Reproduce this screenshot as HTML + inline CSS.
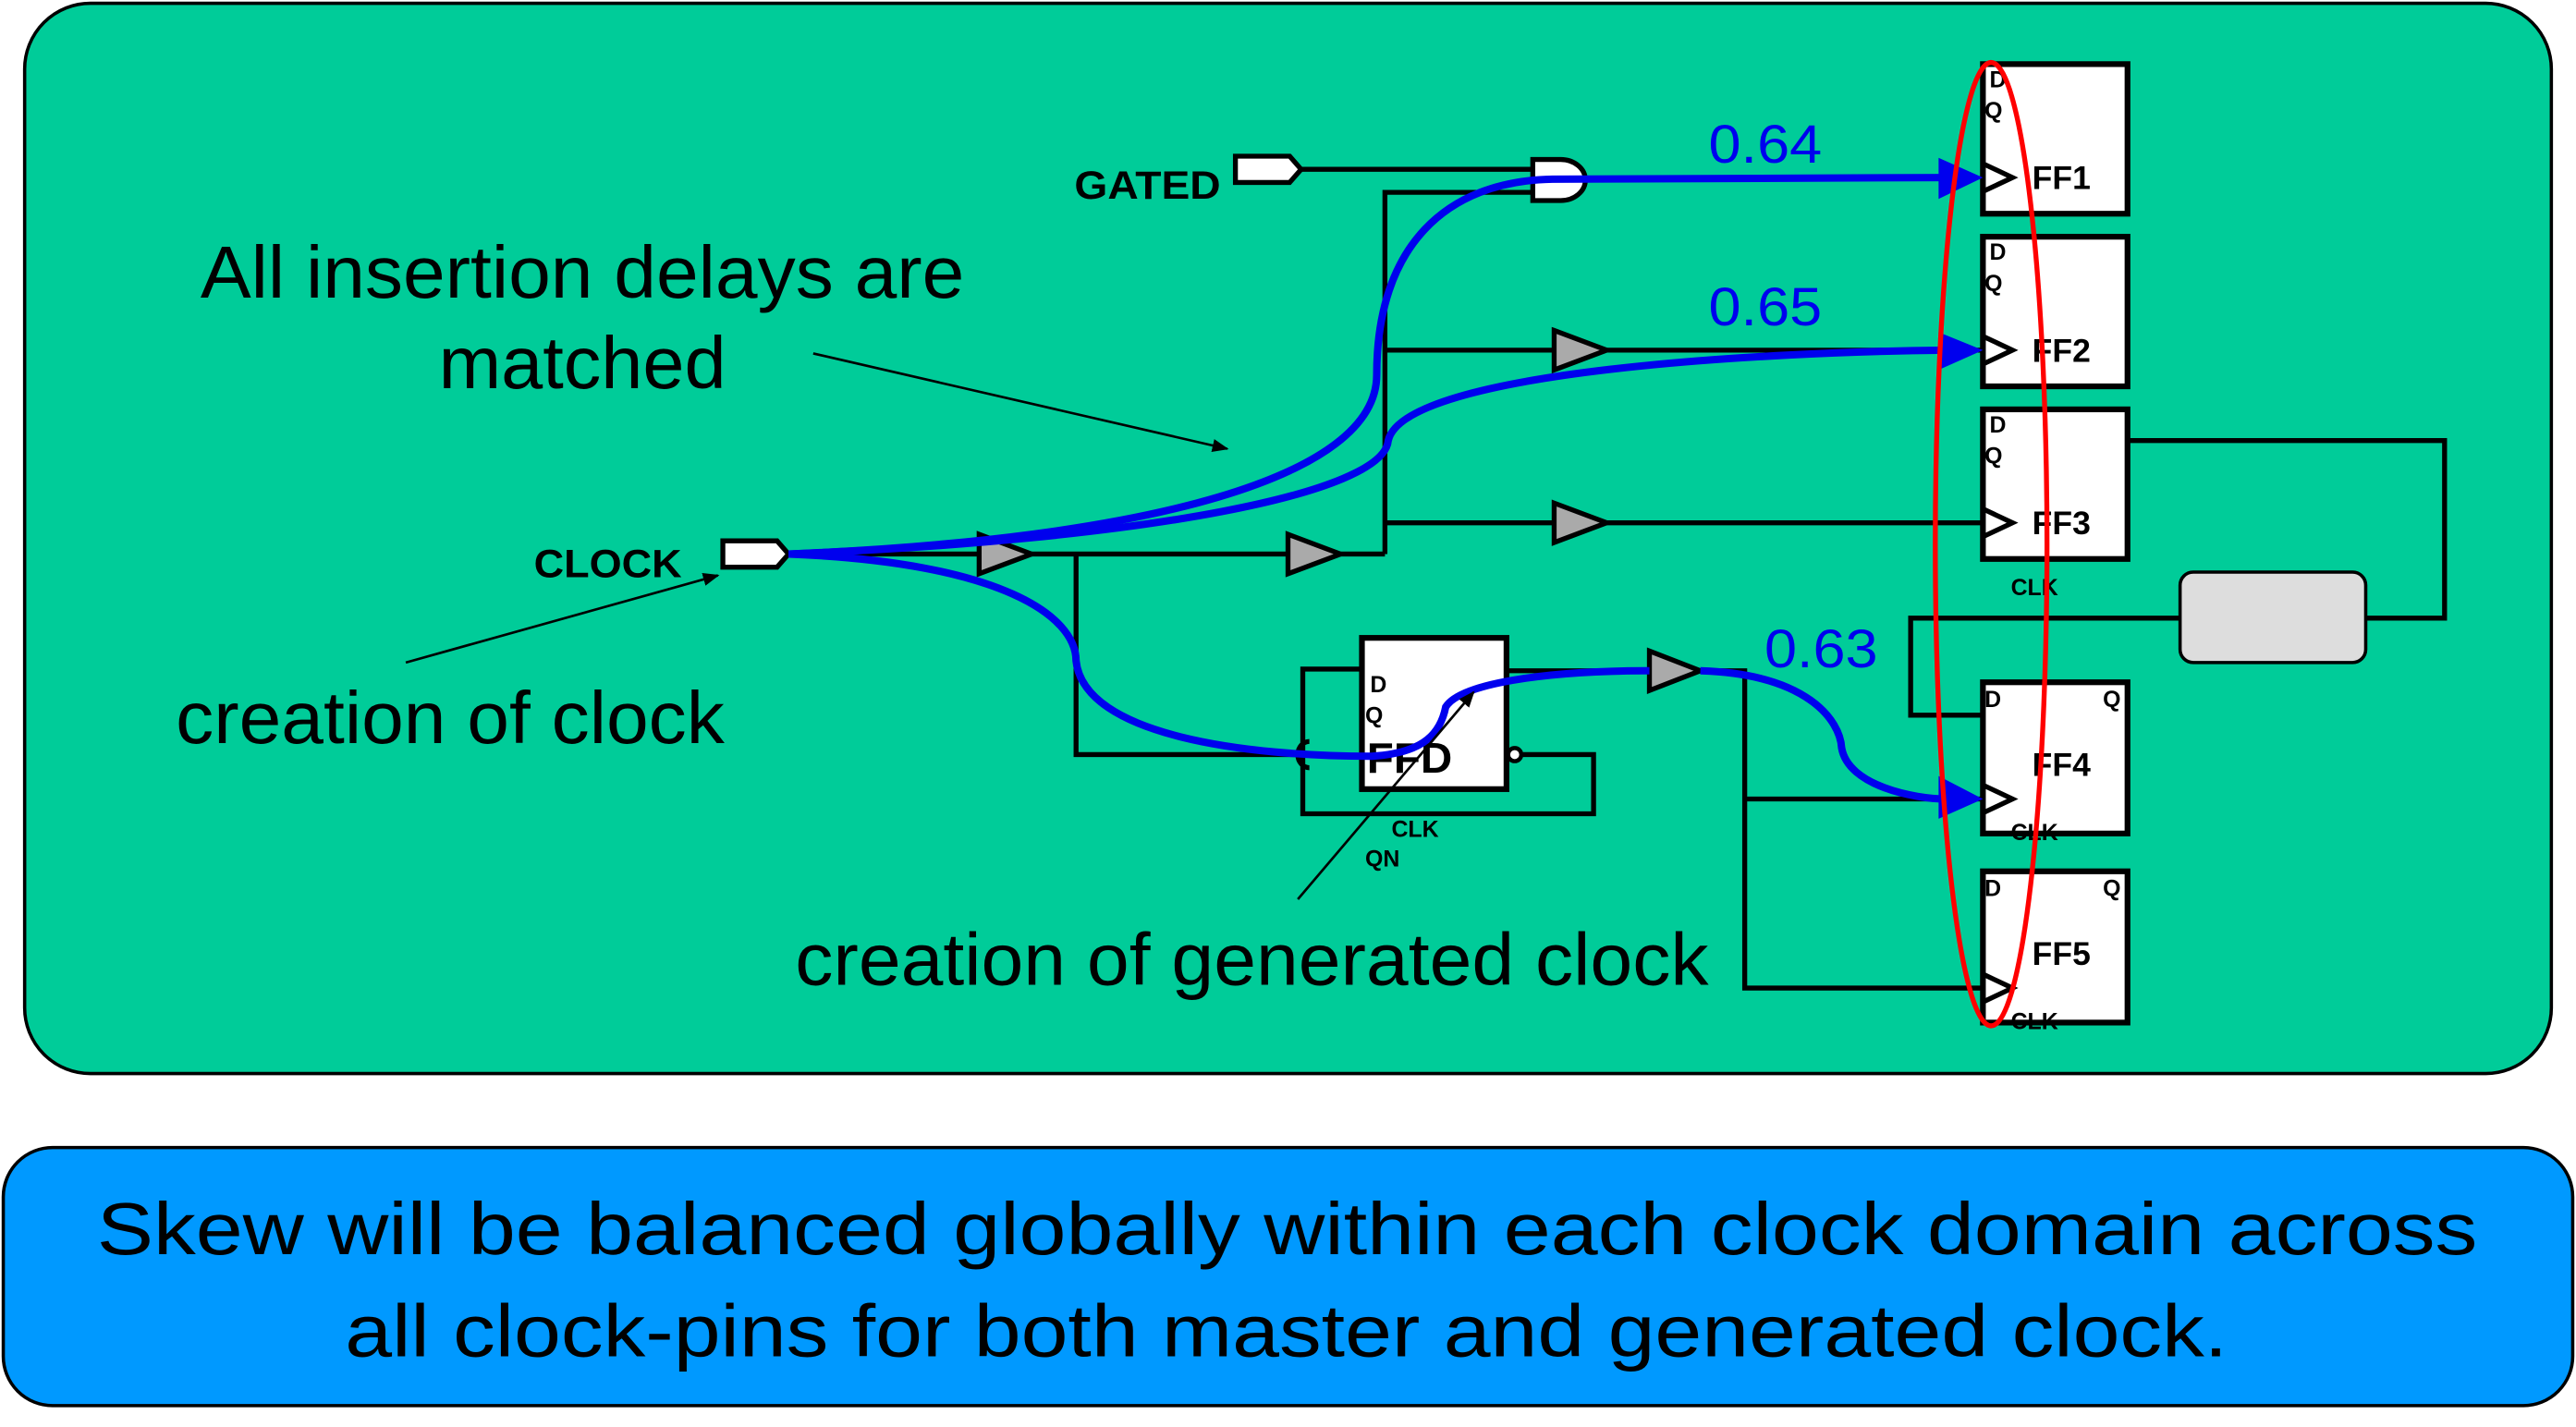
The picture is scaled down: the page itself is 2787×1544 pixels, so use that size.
<!DOCTYPE html>
<html><head><meta charset="utf-8"><style>
html,body{margin:0;padding:0;background:#fff;}
svg{display:block;}
text{font-family:"Liberation Sans",sans-serif;}
</style></head><body>
<svg width="2787" height="1544" viewBox="0 0 1568 868" preserveAspectRatio="none" xmlns="http://www.w3.org/2000/svg">
<defs>
<marker id="ah" markerWidth="10" markerHeight="8" refX="9" refY="4" orient="auto" markerUnits="userSpaceOnUse"><path d="M0,0 L10,4 L0,8 Z" fill="#000"/></marker>
</defs>
<rect x="15" y="2" width="1538" height="651" rx="40" fill="#00CC99" stroke="#000" stroke-width="2"/>
<rect x="2" y="698" width="1564" height="157" rx="30" fill="#0099FF" stroke="#000" stroke-width="2"/>

<g stroke="#000" stroke-width="3" fill="none">
<path d="M792,103 H934"/>
<path d="M934,117 H843 V337"/>
<path d="M843,213 H946 M978,213 H1207"/>
<path d="M843,318 H946 M978,318 H1207"/>
<path d="M480,337 H596 M628,337 H784 M816,337 H843"/>
<path d="M655,337 V459 H788"/>
<path d="M829,407 H793 V495 H970 V459 H927"/>
<path d="M917,408 H1004 M1035,408 H1062 V601 H1207 M1062,486 H1207"/>
<path d="M1295,268 H1488 V376 H1440 M1327,376 H1163 V435 H1207"/>
</g>
<path d="M797,451 a7,8 0 0 0 0,16" stroke="#000" stroke-width="3" fill="none"/>

<path d="M752,95 H785 L792,103 L785,111 H752 Z" fill="#fff" stroke="#000" stroke-width="3"/>
<path d="M440,329 H473 L480,337 L473,345 H440 Z" fill="#fff" stroke="#000" stroke-width="3"/>
<path d="M933,97 H950 A15,12.5 0 0 1 950,122 H933 Z" fill="#fff" stroke="#000" stroke-width="3"/>
<g fill="#AAAAAA" stroke="#000" stroke-width="3">
<path d="M596,325 L628,337 L596,349 Z"/>
<path d="M784,325 L816,337 L784,349 Z"/>
<path d="M946,201 L978,213 L946,225 Z"/>
<path d="M946,306 L978,318 L946,330 Z"/>
<path d="M1004,396 L1035,408 L1004,420 Z"/>
</g>
<rect x="1327" y="348" width="113" height="55" rx="8" fill="#DDDDDD" stroke="#000" stroke-width="2"/>

<g fill="#fff" stroke="#000" stroke-width="3.5">
<rect x="1207" y="39" width="88" height="91"/>
<rect x="1207" y="144" width="88" height="91"/>
<rect x="1207" y="249" width="88" height="91"/>
<rect x="1207" y="415" width="88" height="92"/>
<rect x="1207" y="530" width="88" height="92"/>
<rect x="829" y="388" width="88" height="92"/>
</g>
<g fill="none" stroke="#000" stroke-width="3">
<path d="M1208,100 L1225,108 L1208,116"/>
<path d="M1208,205 L1225,213 L1208,221"/>
<path d="M1208,310 L1225,318 L1208,326"/>
<path d="M1208,478 L1225,486 L1208,494"/>
<path d="M1208,593 L1225,601 L1208,609"/>
</g>
<circle cx="922" cy="459" r="4" fill="#fff" stroke="#000" stroke-width="2.5"/>

<g font-weight="bold" font-size="14" fill="#000">
<text x="1211" y="53">D</text><text x="1208" y="72">Q</text>
<text x="1211" y="158">D</text><text x="1208" y="177">Q</text>
<text x="1211" y="263">D</text><text x="1208" y="282">Q</text>
<text x="1224" y="362">CLK</text>
<text x="1208" y="430">D</text><text x="1280" y="430">Q</text><text x="1224" y="511">CLK</text>
<text x="1208" y="545">D</text><text x="1280" y="545">Q</text><text x="1224" y="626">CLK</text>
<text x="834" y="421">D</text><text x="831" y="440">Q</text>
<text x="847" y="509">CLK</text><text x="831" y="527">QN</text>
</g>
<g font-weight="bold" font-size="20" fill="#000">
<text x="1237" y="115">FF1</text><text x="1237" y="220">FF2</text><text x="1237" y="325">FF3</text>
<text x="1237" y="472">FF4</text><text x="1237" y="587">FF5</text>
</g>
<text x="832" y="470" font-weight="bold" font-size="26" textLength="52" lengthAdjust="spacingAndGlyphs">FFD</text>
<text x="654" y="121" font-weight="bold" font-size="24" textLength="89" lengthAdjust="spacingAndGlyphs">GATED</text>
<text x="325" y="351" font-weight="bold" font-size="24" textLength="90" lengthAdjust="spacingAndGlyphs">CLOCK</text>

<g stroke="#0000EE" stroke-width="4.5" fill="none">
<path d="M480,337 C700,328 838,290 838,228 C838,150 880,110 945,109 L1185,108"/>
<path d="M480,337 C700,328 842,300 845,268 C855,225 1080,214 1185,213"/>
<path d="M480,337 C610,342 655,375 655,402 C660,448 760,460 835,460 C868,458 877,445 880,430 C890,414 950,408 1004,408 M1035,408 C1100,410 1120,438 1121,455 C1125,478 1165,486 1185,486"/>
</g>
<g fill="#0000EE">
<path d="M1180,96 L1207,108 L1180,121 Z"/>
<path d="M1180,202 L1207,213 L1180,225 Z"/>
<path d="M1180,472 L1207,486 L1180,498 Z"/>
</g>
<g fill="#0000EE" font-size="33">
<text x="1040" y="99" textLength="69" lengthAdjust="spacingAndGlyphs">0.64</text>
<text x="1040" y="198" textLength="69" lengthAdjust="spacingAndGlyphs">0.65</text>
<text x="1074" y="406" textLength="69" lengthAdjust="spacingAndGlyphs">0.63</text>
</g>

<ellipse cx="1212" cy="331" rx="34" ry="293" fill="none" stroke="#FF0000" stroke-width="3"/>

<g stroke="#000" stroke-width="1.5" marker-end="url(#ah)">
<line x1="495" y1="215" x2="747" y2="273"/>
<line x1="247" y1="403" x2="437" y2="350"/>
<line x1="790" y1="547" x2="897" y2="421"/>
</g>
<g font-size="45" fill="#000" lengthAdjust="spacingAndGlyphs">
<text x="122" y="181" textLength="465" lengthAdjust="spacingAndGlyphs">All insertion delays are</text>
<text x="267" y="236" textLength="175" lengthAdjust="spacingAndGlyphs">matched</text>
<text x="107" y="452" textLength="334" lengthAdjust="spacingAndGlyphs">creation of clock</text>
<text x="484" y="599" textLength="556" lengthAdjust="spacingAndGlyphs">creation of generated clock</text>
<text x="59" y="763" textLength="1449" lengthAdjust="spacingAndGlyphs">Skew will be balanced globally within each clock domain across</text>
<text x="210" y="825" textLength="1146" lengthAdjust="spacingAndGlyphs">all clock-pins for both master and generated clock.</text>
</g>
</svg>
</body></html>
